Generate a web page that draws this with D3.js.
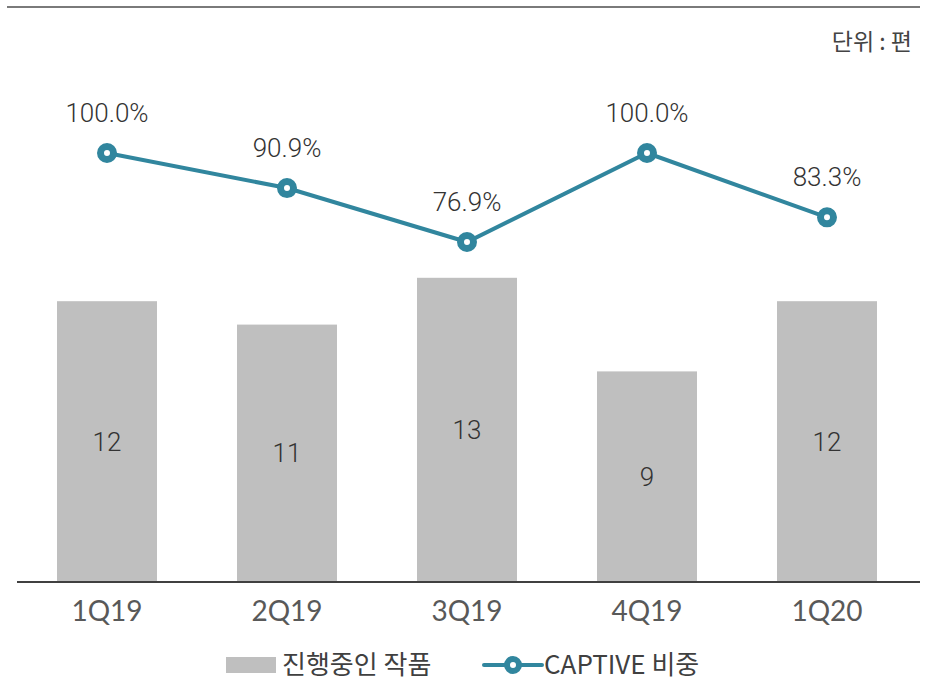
<!DOCTYPE html>
<html><head><meta charset="utf-8">
<script src="https://cdn.jsdelivr.net/npm/d3@7"></script>
<style>body{margin:0;background:#fff}svg{display:block}</style>
</head><body>
<script>
const categories = ["1Q19","2Q19","3Q19","4Q19","1Q20"];
const barValues = [12, 11, 13, 9, 12];
const captiveRatio = [100.0, 90.9, 76.9, 100.0, 83.3];
const barSeriesName = "진행중인 작품";
const lineSeriesName = "CAPTIVE 비중";
const unitLabel = "단위 : 편";

const W = 930, H = 680;
const svg = d3.select("body").append("svg").attr("width", W).attr("height", H);
const font = "'Noto Sans CJK KR','Noto Sans',sans-serif";
const numFont = "Roboto,'Noto Sans',sans-serif";
const teal = "#31869E";

svg.append("line").attr("x1",7).attr("x2",920).attr("y1",7).attr("y2",7)
  .attr("stroke","#7a7a7a").attr("stroke-width",2);

svg.append("text").attr("x",912).attr("y",50).attr("text-anchor","end")
  .attr("font-family",font).attr("font-size",23).attr("fill","#444").text(unitLabel);

const x = d3.scaleBand().domain(categories).range([17,917]).paddingInner(80/180).paddingOuter(40/180);
const y = d3.scaleLinear().domain([0,24]).range([582, 20.4]);
const y2 = d3.scaleLinear().domain([0,100]).range([538.3,153]);

svg.selectAll("rect.bar").data(barValues).enter().append("rect")
  .attr("x",(d,i)=>x(categories[i])).attr("width",x.bandwidth())
  .attr("y",d=>y(d)).attr("height",d=>y(0)-y(d)).attr("fill","#BFBFBF");

svg.selectAll("text.bl").data(barValues).enter().append("text")
  .attr("x",(d,i)=>x(categories[i])+x.bandwidth()/2)
  .attr("y",d=>(y(d)+y(0))/2).attr("dy","0.35em").attr("text-anchor","middle")
  .attr("font-family",numFont).attr("font-weight",300).attr("font-size",26).attr("fill","#333").text(d=>d);

const xAxis = svg.append("g").attr("transform","translate(0,582)")
  .call(d3.axisBottom(x).tickSize(0).tickPadding(19));
xAxis.select(".domain").attr("stroke","#404040").attr("stroke-width",2).attr("d","M17,0H920");
xAxis.selectAll("text").attr("font-family","Lato,'Noto Sans',sans-serif").attr("font-size",28)
  .attr("fill","#595959").attr("dy","0.71em");

const line = d3.line().x((d,i)=>x(categories[i])+x.bandwidth()/2).y(d=>y2(d));
svg.append("path").datum(captiveRatio).attr("d",line).attr("fill","none")
  .attr("stroke",teal).attr("stroke-width",4);

svg.selectAll("circle.m").data(captiveRatio).enter().append("circle")
  .attr("cx",(d,i)=>x(categories[i])+x.bandwidth()/2).attr("cy",d=>y2(d))
  .attr("r",6.5).attr("fill","#fff").attr("stroke",teal).attr("stroke-width",7);

svg.selectAll("text.pl").data(captiveRatio).enter().append("text")
  .attr("x",(d,i)=>x(categories[i])+x.bandwidth()/2).attr("y",d=>y2(d)-40)
  .attr("dy","0.35em").attr("text-anchor","middle")
  .attr("font-family",numFont).attr("font-weight",300).attr("font-size",26).attr("fill","#333")
  .text(d=>d.toFixed(1)+"%");

// legend
const lg = svg.append("g");
lg.append("rect").attr("x",226).attr("y",657).attr("width",50).attr("height",16).attr("fill","#BFBFBF");
lg.append("text").attr("x",282).attr("y",665).attr("dy","0.35em").attr("font-family",font)
  .attr("font-size",26).attr("fill","#404040").text(barSeriesName);
lg.append("line").attr("x1",484).attr("x2",542).attr("y1",665).attr("y2",665)
  .attr("stroke",teal).attr("stroke-width",4).attr("stroke-linecap","round");
lg.append("circle").attr("cx",513).attr("cy",665).attr("r",6).attr("fill","#fff")
  .attr("stroke",teal).attr("stroke-width",6);
lg.append("text").attr("x",544).attr("y",665).attr("dy","0.35em").attr("font-family",font)
  .attr("font-size",26).attr("fill","#404040").text(lineSeriesName);
</script>
</body></html>
